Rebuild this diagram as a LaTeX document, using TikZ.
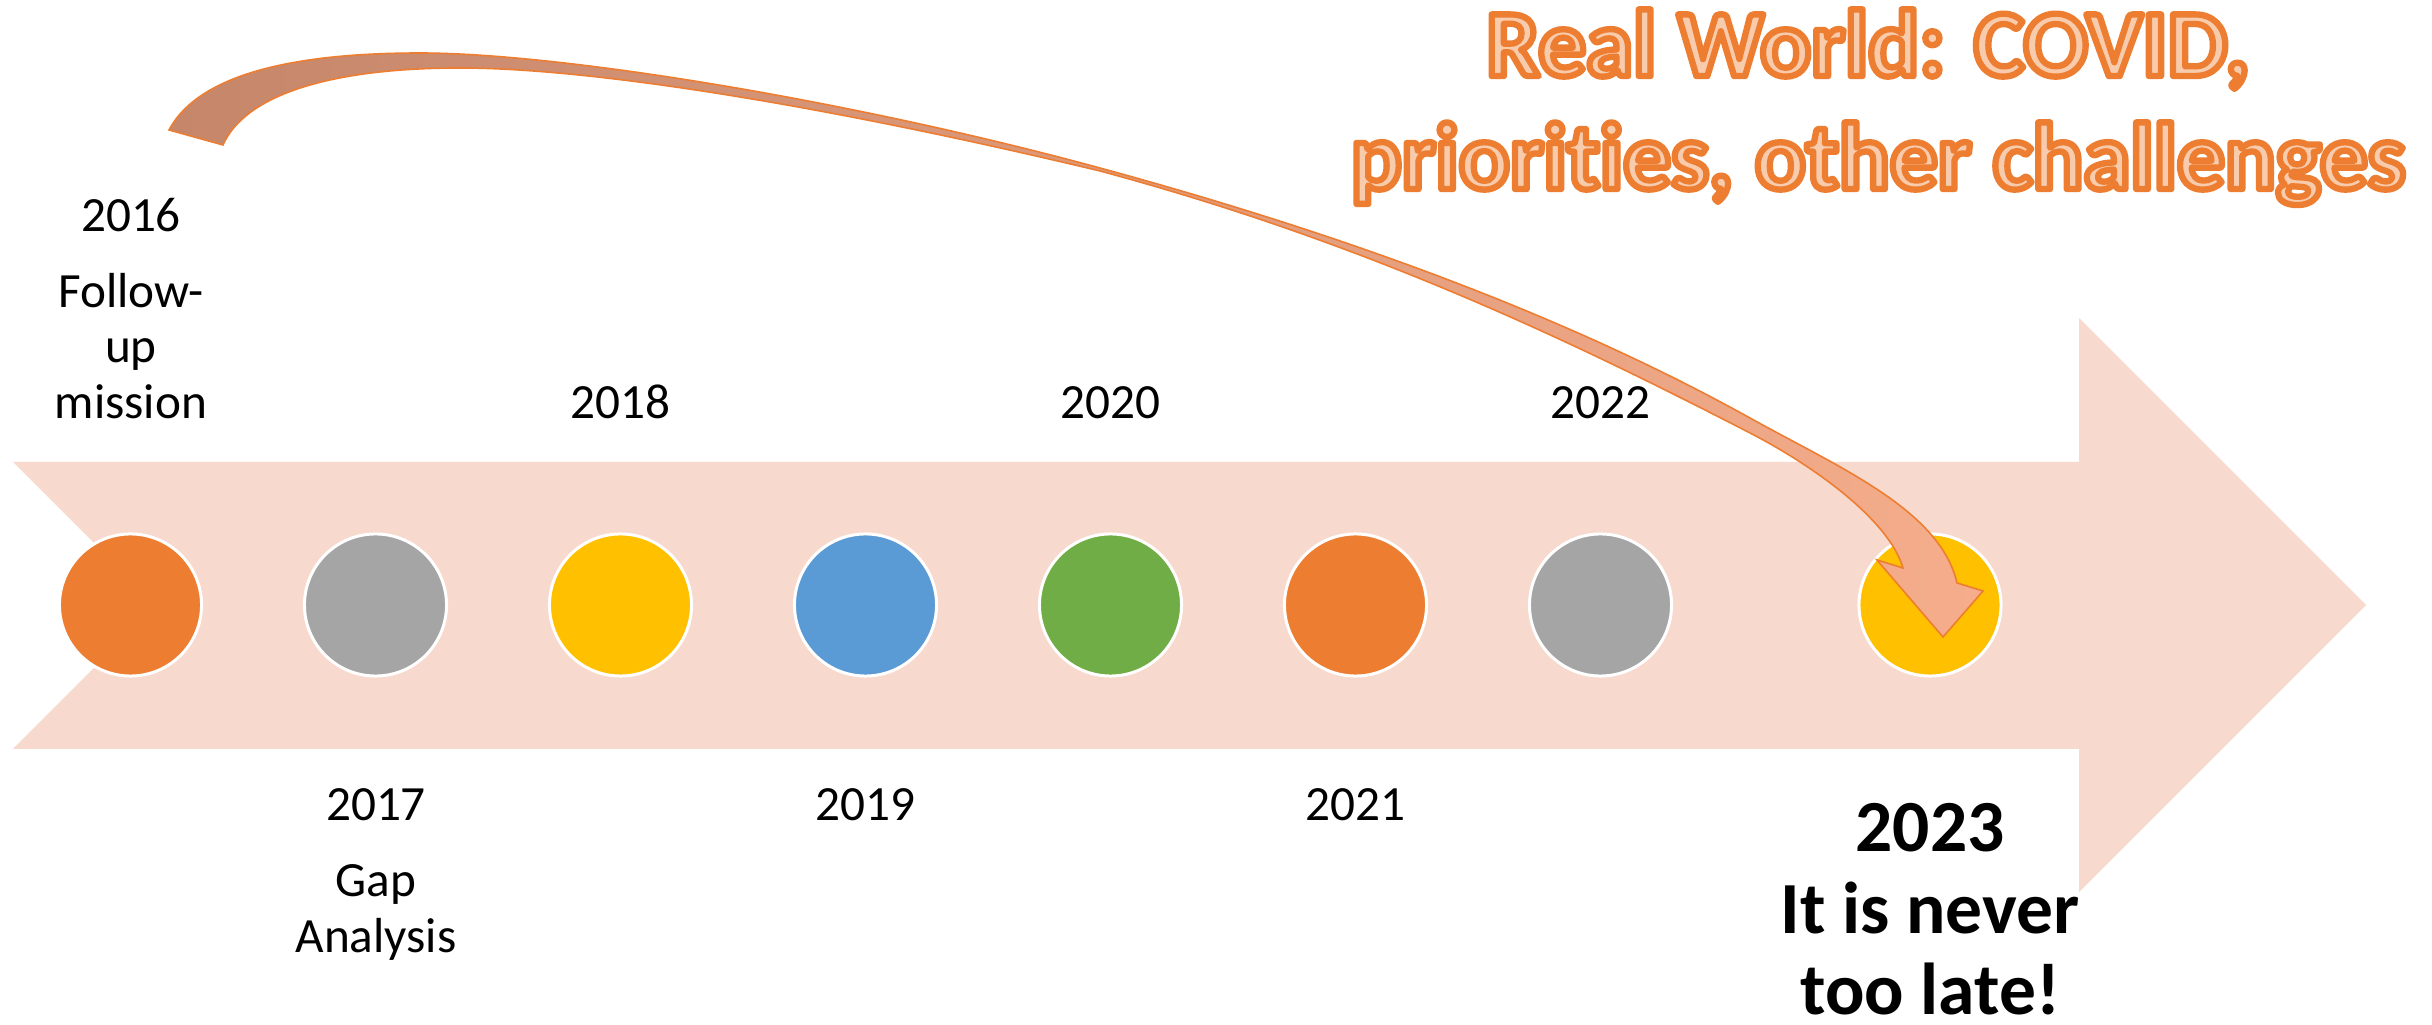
\documentclass[tikz,border=0pt]{standalone}
\usepackage{fontspec}
\setmainfont{Carlito}[Ligatures=NoCommon]
\definecolor{bandc}{HTML}{F7D9CE}
\definecolor{cOrange}{HTML}{ED7D31}
\definecolor{cGray}{HTML}{A5A5A5}
\definecolor{cYellow}{HTML}{FFC000}
\definecolor{cBlue}{HTML}{5B9BD5}
\definecolor{cGreen}{HTML}{70AD47}
\definecolor{titlefill}{HTML}{F8CBAD}
\definecolor{arrowA}{HTML}{C5866A}
\definecolor{arrowM}{HTML}{D39A80}
\definecolor{arrowB}{HTML}{F5AD8B}
\definecolor{arrowline}{HTML}{ED7D31}
\newcommand{\outl}[1]{\special{pdf:literal direct 2 Tr 1 j 1.8 w 0.929 0.490 0.192 RG}#1\special{pdf:literal direct 0 Tr}}
\begin{document}
\begin{tikzpicture}[x=0.01cm,y=-0.01cm,
  dot/.style={circle, inner sep=0pt, minimum size=1.42cm, draw=white, line width=0.85pt},
  lbl/.style={font=\fontsize{14}{15.8}\selectfont, anchor=base, inner sep=0pt},
  big/.style={font=\fontsize{20.9}{23}\selectfont\bfseries, anchor=base, inner sep=0pt},
  ttl/.style={font=\fontsize{27}{30}\selectfont\bfseries, text=titlefill, anchor=base, inner sep=0pt}]
\useasboundingbox[fill=white] (0,0) rectangle (2432,1025);
% big timeline arrow
\fill[bandc] (13,462) -- (2079,462) -- (2079,318) -- (2366,605) -- (2079,892) -- (2079,749) -- (13,749) -- (156.5,605.5) -- cycle;
% circles
\foreach \n/\x/\c in {c16/130.5/cOrange, c17/375.5/cGray, c18/620.5/cYellow, c19/865.5/cBlue, c20/1110.5/cGreen, c21/1355.5/cOrange, c22/1600.5/cGray, c23/1930/cYellow}
  \node[dot, fill=\c] (\n) at (\x,605) {};
% curved arrow
\path[draw=arrowline, line width=0.45pt, left color=arrowA, middle color=arrowM, right color=arrowB]
 (169,130) .. controls (200,72) and (300,53) .. (420,53)
 .. controls (560,53) and (850,100) .. (1100,168)
 .. controls (1350,236) and (1570,318) .. (1750,418)
 .. controls (1840,468) and (1940,510) .. (1957,583)
 -- (1983,591) -- (1943,637) -- (1877,560) -- (1903,568)
 .. controls (1889,520) and (1814,466) .. (1750,433)
 .. controls (1560,335) and (1360,241) .. (1100,171)
 .. controls (820,104) and (590,68) .. (460,68)
 .. controls (330,68) and (245,95) .. (223,145)
 -- cycle;
% labels
\node[lbl] (y16) at (131,232) {2016};
\node[lbl] (t16a) at (131,308) {Follow-};
\node[lbl] (t16b) at (131,363) {up};
\node[lbl] (t16c) at (131,419) {mission};
\node[lbl] (y18) at (620.5,419) {2018};
\node[lbl] (y20) at (1110.5,419) {2020};
\node[lbl] (y22) at (1600.5,419) {2022};
\node[lbl] (y17) at (376,821) {2017};
\node[lbl] (t17a) at (376,897) {Gap};
\node[lbl] (t17b) at (376,953) {Analysis};
\node[lbl] (y19) at (865.5,821) {2019};
\node[lbl] (y21) at (1355.5,821) {2021};
\node[big] (y23) at (1930,852) {2023};
\node[big] (t23a) at (1930,934) {It is never};
\node[big] (t23b) at (1930,1015) {too late!};
% title
\node[ttl] (ttl1) at (1868,76) {\outl{Real World: COVID,}};
\node[ttl] (ttl2) at (1878,189) {\outl{priorit\kern0pt ies, other challenges}};
\end{tikzpicture}
\end{document}
